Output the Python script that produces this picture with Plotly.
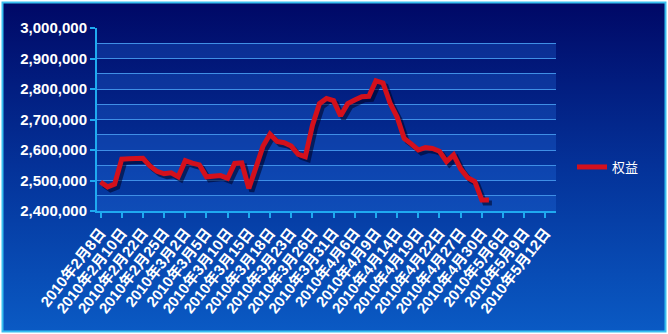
import base64
import plotly.graph_objects as go

# ---------------- data ----------------
date_labels = ["2010年2月8日", "2010年2月10日", "2010年2月22日", "2010年2月25日",
               "2010年3月2日", "2010年3月5日", "2010年3月10日", "2010年3月15日",
               "2010年3月18日", "2010年3月23日", "2010年3月26日", "2010年3月31日",
               "2010年4月6日", "2010年4月9日", "2010年4月14日", "2010年4月19日",
               "2010年4月22日", "2010年4月27日", "2010年4月30日", "2010年5月6日",
               "2010年5月9日", "2010年5月12日"]
label_step = 3          # one label every 3 categories
n_categories = 65

series_name = "权益"
equity = [2495000, 2479000, 2488000, 2570000, 2571000, 2572000, 2573000, 2548000,
          2530000, 2522000, 2525000, 2512000, 2565000, 2557000, 2551000, 2512000,
          2512000, 2516000, 2507000, 2556000, 2558000, 2474000, 2542000, 2612000,
          2652000, 2628000, 2624000, 2613000, 2586000, 2578000, 2680000, 2752000,
          2769000, 2762000, 2712000, 2752000, 2764000, 2775000, 2776000, 2827000,
          2820000, 2754000, 2708000, 2638000, 2620000, 2600000, 2608000, 2605000,
          2596000, 2562000, 2584000, 2538000, 2509000, 2497000, 2436000, 2436000]

y_min, y_max, y_step, y_minor = 2400000, 3000000, 100000, 50000
y_ticks = list(range(y_min, y_max + 1, y_step))

# ---------------- geometry ----------------
W, H = 668, 334
ml, mr, mt, mb = 97, 109, 28, 120
pw, ph = W - ml - mr, H - mt - mb
sh = 3  # shadow offset px
ex, ey = sh / pw, sh / ph

x_idx = list(range(len(equity)))
tickvals = [i * label_step for i in range(len(date_labels))]
x_range = [-0.5, n_categories - 0.5]

# background gradient + frame as an svg image
svg = f'''<svg xmlns="http://www.w3.org/2000/svg" width="{W}" height="{H}" viewBox="0 0 {W} {H}">
<defs><linearGradient id="g" x1="0" y1="0" x2="0" y2="1">
<stop offset="0" stop-color="#000866"/><stop offset="0.5" stop-color="#043299"/>
<stop offset="1" stop-color="#0a5ac4"/></linearGradient></defs>
<rect width="{W}" height="{H}" fill="#ffffff"/>
<rect x="2.5" y="2.5" width="{W-5}" height="{H-5}" fill="url(#g)" stroke="#38bff0" stroke-width="2"/>
</svg>'''
svg_uri = "data:image/svg+xml;base64," + base64.b64encode(svg.encode()).decode()

axis_col = "#1faaf0"
grid_col = "#3f8fe6"
tick_font = dict(family="Arial, 'Liberation Sans', 'Noto Sans CJK SC'", size=15,
                 color="white", weight="bold")

fig = go.Figure()
# shadow
fig.add_trace(go.Scatter(x=x_idx, y=equity, xaxis="x2", yaxis="y2", mode="lines",
                         line=dict(color="rgba(0,0,30,0.55)", width=5),
                         showlegend=False, hoverinfo="skip"))
# main line
fig.add_trace(go.Scatter(x=x_idx, y=equity, xaxis="x3", yaxis="y3", mode="lines",
                         line=dict(color="#d3101c", width=5), name=series_name))

hidden = dict(visible=False, showgrid=False, zeroline=False, fixedrange=True)

fig.update_layout(
    width=W, height=H,
    margin=dict(l=ml, r=mr, t=mt, b=mb),
    paper_bgcolor="white",
    plot_bgcolor="rgba(0,0,0,0)",
    xaxis=dict(domain=[0, 1 - ex], range=x_range, anchor="y",
               tickmode="array", tickvals=tickvals, ticktext=date_labels,
               tickangle=-52, tickfont=tick_font, showgrid=False, zeroline=False,
               showline=True, linecolor=axis_col, linewidth=2,
               ticks="outside", ticklen=5, tickwidth=2, tickcolor=axis_col),
    yaxis=dict(domain=[ey, 1], range=[y_min, y_max], anchor="x",
               tickmode="array", tickvals=y_ticks, tickformat=",",
               tickfont=tick_font, showgrid=True, gridcolor=grid_col, gridwidth=1,
               minor=dict(dtick=y_minor, tick0=y_min, showgrid=True,
                          gridcolor=grid_col, gridwidth=1, ticks=""),
               zeroline=False, showline=True, linecolor=axis_col, linewidth=2,
               ticks="outside", ticklen=5, tickwidth=2, tickcolor=axis_col),
    xaxis2=dict(domain=[ex, 1], range=x_range, anchor="y2", **hidden),
    yaxis2=dict(domain=[0, 1 - ey], range=[y_min, y_max], anchor="x2", **hidden),
    xaxis3=dict(domain=[0, 1 - ex], range=x_range, anchor="y3", **hidden),
    yaxis3=dict(domain=[ey, 1], range=[y_min, y_max], anchor="x3", **hidden),
    legend=dict(x=(572 - ml) / pw, y=1 - (167 - mt) / ph, xanchor="left",
                yanchor="middle", bgcolor="rgba(0,0,0,0)", itemwidth=30,
                font=dict(family="'Noto Sans CJK SC'", size=13, color="white")),
    images=[dict(source=svg_uri, xref="paper", yref="paper",
                 x=-ml / pw, y=1 + mt / ph, sizex=W / pw, sizey=H / ph,
                 xanchor="left", yanchor="top", sizing="stretch", layer="below")],
    showlegend=True,
)

# interlaced bands on the plot area
for v in y_ticks[:-1]:
    fig.add_shape(type="rect", xref="x domain", yref="y", x0=0, x1=1,
                  y0=v, y1=v + y_minor, layer="below",
                  fillcolor="rgba(40,120,235,0.28)", line_width=0)

fig.write_html("out.html")
